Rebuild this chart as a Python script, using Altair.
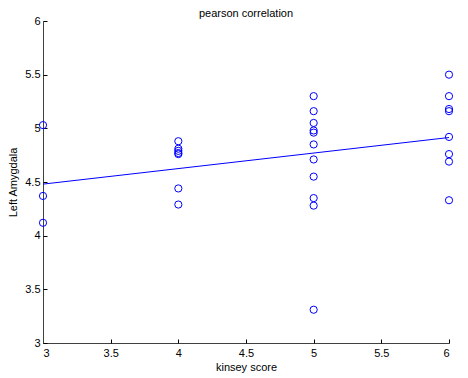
import altair as alt
import pandas as pd

# Kinsey score groups and Left Amygdala values
kinsey_3 = [5.03, 4.37, 4.12]
kinsey_4 = [4.88, 4.81, 4.79, 4.77, 4.76, 4.44, 4.29]
kinsey_5 = [5.30, 5.16, 5.05, 4.98, 4.96, 4.85, 4.71, 4.55, 4.35, 4.28, 3.31]
kinsey_6 = [5.50, 5.30, 5.18, 5.16, 4.92, 4.76, 4.69, 4.33]

x_ticks = [3, 3.5, 4, 4.5, 5, 5.5, 6]
y_ticks = [3, 3.5, 4, 4.5, 5, 5.5, 6]

rows = []
for k, vals in [(3, kinsey_3), (4, kinsey_4), (5, kinsey_5), (6, kinsey_6)]:
    for v in vals:
        rows.append({"k": k, "amyg": v})
df = pd.DataFrame(rows)

W, H = 406, 322
FONT = "Liberation Sans"
BLUE = "#0000ff"

xscale = alt.Scale(domain=[3, 6], nice=False, zero=False)
yscale = alt.Scale(domain=[3, 6], nice=False, zero=False)

points = alt.Chart(df).mark_point(
    shape="circle", filled=False, color=BLUE, size=52, strokeWidth=1, opacity=1
).encode(
    x=alt.X("k:Q", scale=xscale, axis=alt.Axis(
        values=x_ticks, format="~g", ticks=False, grid=False,
        domain=True, domainColor="#404040", labelPadding=4,
        labelFont=FONT, labelFontSize=11, labelColor="#000000",
        title="kinsey score", titleFont=FONT, titleFontSize=11,
        titleFontWeight="normal", titleColor="#000000", titlePadding=3)),
    y=alt.Y("amyg:Q", scale=yscale, axis=alt.Axis(
        values=y_ticks, format="~g", ticks=False, grid=False,
        domain=True, domainColor="#404040", labelPadding=3,
        labelFont=FONT, labelFontSize=11, labelColor="#000000",
        title="Left Amygdala", titleFont=FONT, titleFontSize=11,
        titleFontWeight="normal", titleColor="#000000", titlePadding=6)),
)

line = alt.Chart(df).transform_regression("k", "amyg").mark_line(
    color=BLUE, strokeWidth=1
).encode(
    x=alt.X("k:Q", scale=xscale, axis=alt.Axis(
        orient="top", offset=-H, values=x_ticks, labels=False, domain=False,
        grid=False, ticks=True, tickSize=4, tickColor="#000000", title=None)),
    y=alt.Y("amyg:Q", scale=yscale, axis=alt.Axis(
        orient="right", offset=-W, values=y_ticks, labels=False, domain=False,
        grid=False, ticks=True, tickSize=4, tickColor="#000000", title=None)),
)

chart = alt.layer(points, line).resolve_axis(
    x="independent", y="independent"
).properties(
    width=W, height=H,
    title=alt.TitleParams("pearson correlation", font=FONT, fontSize=11,
                          fontWeight="normal", color="#000000",
                          anchor="middle", offset=-4),
    autosize=alt.AutoSizeParams(type="none"),
    padding={"left": 35, "top": 13, "right": 10, "bottom": 33},
).configure_view(stroke=None)

chart.save("out.html", embed_options={"renderer": "svg", "actions": False})
